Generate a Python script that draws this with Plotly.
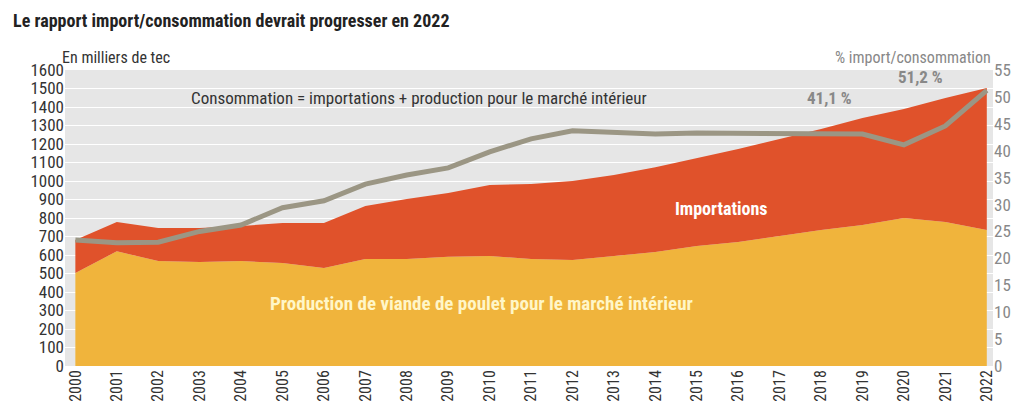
import plotly.graph_objects as go

years = list(range(2000, 2023))
production = [503, 620, 567, 562, 567, 557, 530, 578, 578, 590, 595, 578, 573, 595, 616, 649, 670, 703, 735, 762, 800, 778, 735]
consommation = [681, 778, 746, 746, 757, 773, 773, 865, 903, 935, 978, 984, 1000, 1032, 1075, 1124, 1173, 1227, 1281, 1340, 1389, 1449, 1503]
pct_import = [23.4, 22.9, 23.0, 25.0, 26.2, 29.4, 30.7, 33.8, 35.5, 36.8, 39.8, 42.2, 43.7, 43.3, 43.1, 43.3, 43.3, 43.3, 43.1, 43.1, 41.1, 44.6, 51.2]

fig = go.Figure()
fig.add_trace(go.Scatter(x=years, y=production, fill='tozeroy', mode='lines',
                         line=dict(width=0, color='#f0b43c'), fillcolor='#f0b43c'))
fig.add_trace(go.Scatter(x=years, y=consommation, fill='tonexty', mode='lines',
                         line=dict(width=0, color='#e0522b'), fillcolor='#e0522b'))
fig.add_trace(go.Scatter(x=years, y=pct_import, yaxis='y2', mode='lines',
                         line=dict(width=5, color='#9b9684')))

fig.update_layout(
    width=1024, height=415, showlegend=False, hovermode=False,
    paper_bgcolor='white', plot_bgcolor='#e6e6e6',
    margin=dict(l=57, r=39, t=62, b=57, autoexpand=False),
    font=dict(family='Roboto Condensed, Liberation Sans Narrow, Roboto', color='#333', size=16),
    title=dict(text='<b>Le rapport import/consommation devrait progresser en 2022</b>',
               x=0.005, y=0.985, xanchor='left', yanchor='top', font=dict(size=18, color='#222')),
    xaxis=dict(range=[1999.75, 2022.15], tickmode='array', tickvals=years, ticktext=[str(y) for y in years],
               tickangle=-90, showgrid=False, zeroline=False, ticks='', tickfont=dict(size=16)),
    yaxis=dict(range=[0, 1600], dtick=100, gridcolor='white', gridwidth=1, zeroline=False,
               tickfont=dict(size=17), ticks=''),
    yaxis2=dict(range=[0, 55], dtick=5, overlaying='y', side='right', showgrid=False, zeroline=False,
                tickfont=dict(size=17, color='#888'), ticks=''),
    annotations=[
        dict(text='En milliers de tec', xref='paper', yref='paper', x=-0.005, y=1.005, xanchor='left',
             yanchor='bottom', showarrow=False, font=dict(size=16, color='#333')),
        dict(text='% import/consommation', xref='paper', yref='paper', x=1.0, y=1.005, xanchor='right',
             yanchor='bottom', showarrow=False, font=dict(size=16, color='#888')),
        dict(text='Consommation = importations + production pour le marché intérieur', x=2008.3, y=1450,
             xanchor='center', showarrow=False, font=dict(size=17, color='#333')),
        dict(text='<b>Importations</b>', x=2015.6, y=850, showarrow=False, font=dict(size=18, color='white')),
        dict(text='<b>Production de viande de poulet pour le marché intérieur</b>', x=2009.8, y=340,
             showarrow=False, font=dict(size=19, color='#fff6c8')),
        dict(text='<b>41,1 %</b>', x=2018.2, y=1450, showarrow=False, font=dict(size=17, color='#888')),
        dict(text='<b>51,2 %</b>', x=2020.4, y=1560, showarrow=False, font=dict(size=17, color='#888')),
    ],
)
fig.write_html('out.html')
